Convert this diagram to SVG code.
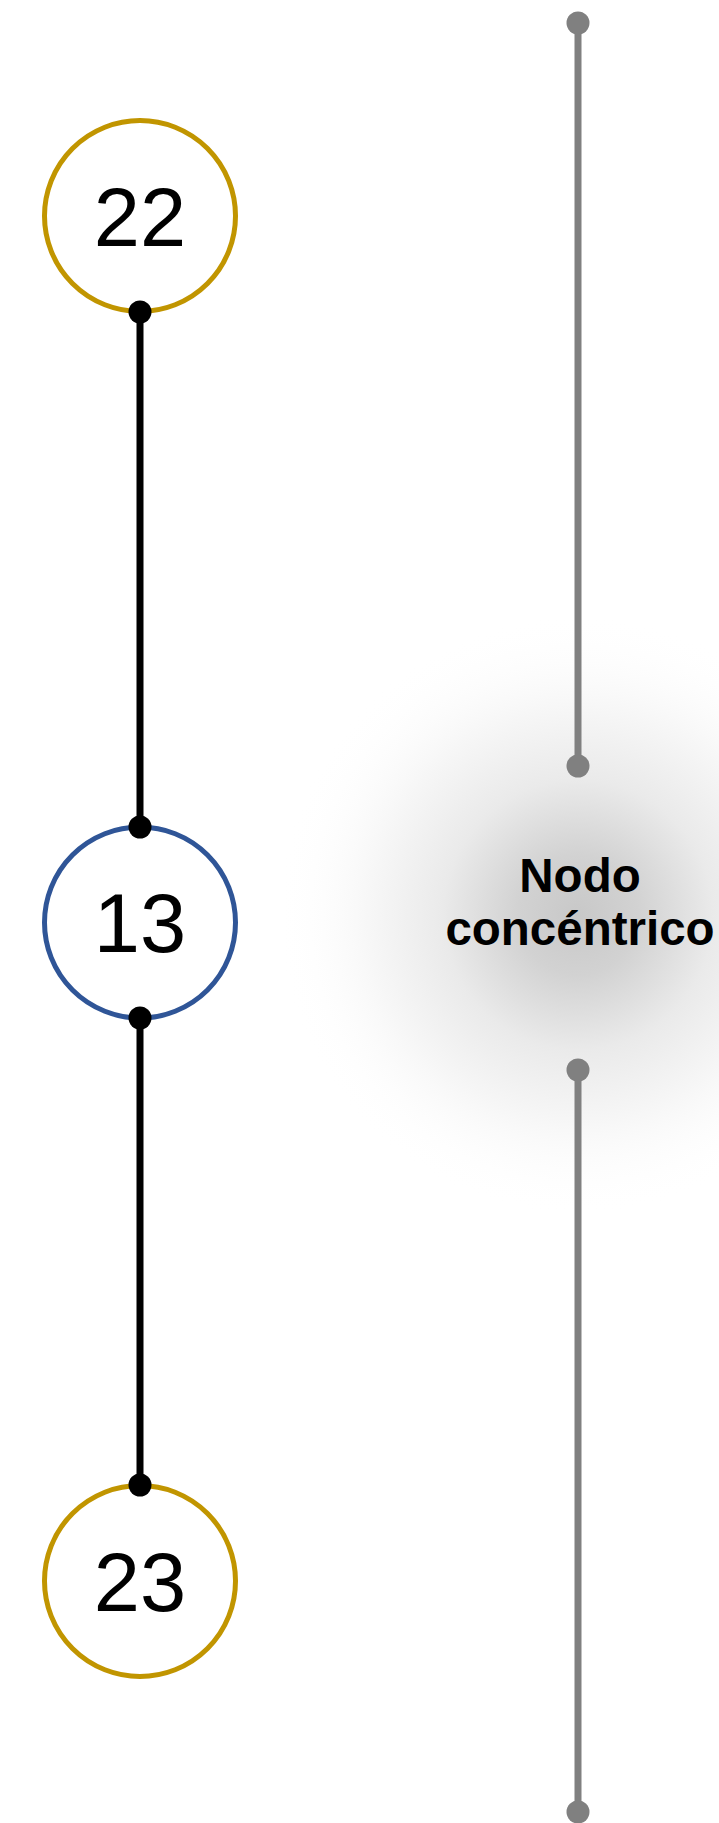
<svg xmlns="http://www.w3.org/2000/svg" width="719" height="1823" viewBox="0 0 719 1823">
  <defs>
    <radialGradient id="glow" cx="578" cy="915" r="300" gradientUnits="userSpaceOnUse">
      <stop offset="0" stop-color="#c8c8c8"/>
      <stop offset="0.2" stop-color="#d2d2d2"/>
      <stop offset="0.45" stop-color="#eaeaea"/>
      <stop offset="0.7" stop-color="#f7f7f7"/>
      <stop offset="1" stop-color="#ffffff" stop-opacity="0"/>
    </radialGradient>
  </defs>
  <style>
    .num { font-family: "Liberation Sans", Arial, sans-serif; font-size: 83px; fill: #000; text-anchor: middle; }
    .lbl { font-family: "Liberation Sans", Arial, sans-serif; font-size: 47.5px; font-weight: bold; fill: #000; text-anchor: middle; }
    .ring { fill: #fff; stroke-width: 5; }
    .gold { stroke: #c19500; }
    .blue { stroke: #2f5597; }
    .edge { stroke: #000; stroke-width: 7; fill: none; }
    .dot { fill: #000; }
    .axis { stroke: #808080; stroke-width: 7; fill: none; }
    .gdot { fill: #808080; }
  </style>
  <rect width="719" height="1823" fill="#fff"/>
  <circle cx="578" cy="915" r="300" fill="url(#glow)"/>
  <g id="concentric">
    <text class="lbl" x="580" y="892">Nodo</text>
    <text class="lbl" x="580" y="945">concéntrico</text>
  </g>
  <g id="axis">
    <line class="axis" x1="578" y1="23" x2="578" y2="766"/>
    <circle class="gdot" cx="578" cy="23" r="11.5"/>
    <circle class="gdot" cx="578" cy="766" r="11.5"/>
    <line class="axis" x1="578" y1="1070" x2="578" y2="1812"/>
    <circle class="gdot" cx="578" cy="1070" r="11.5"/>
    <circle class="gdot" cx="578" cy="1812" r="11.5"/>
  </g>
  <g id="node-22">
    <circle class="ring gold" cx="140" cy="216" r="95.5"/>
    <text class="num" x="140" y="246">22</text>
  </g>
  <g id="node-13">
    <circle class="ring blue" cx="140" cy="922.5" r="95.5"/>
    <text class="num" x="140" y="952">13</text>
  </g>
  <g id="node-23">
    <circle class="ring gold" cx="140" cy="1581" r="95.5"/>
    <text class="num" x="140" y="1611">23</text>
  </g>
  <g id="connectors">
    <line class="edge" x1="140" y1="312" x2="140" y2="827"/>
    <circle class="dot" cx="140" cy="312" r="11.5"/>
    <circle class="dot" cx="140" cy="827" r="11.5"/>
    <line class="edge" x1="140" y1="1018" x2="140" y2="1485"/>
    <circle class="dot" cx="140" cy="1018" r="11.5"/>
    <circle class="dot" cx="140" cy="1485" r="11.5"/>
  </g>
</svg>
